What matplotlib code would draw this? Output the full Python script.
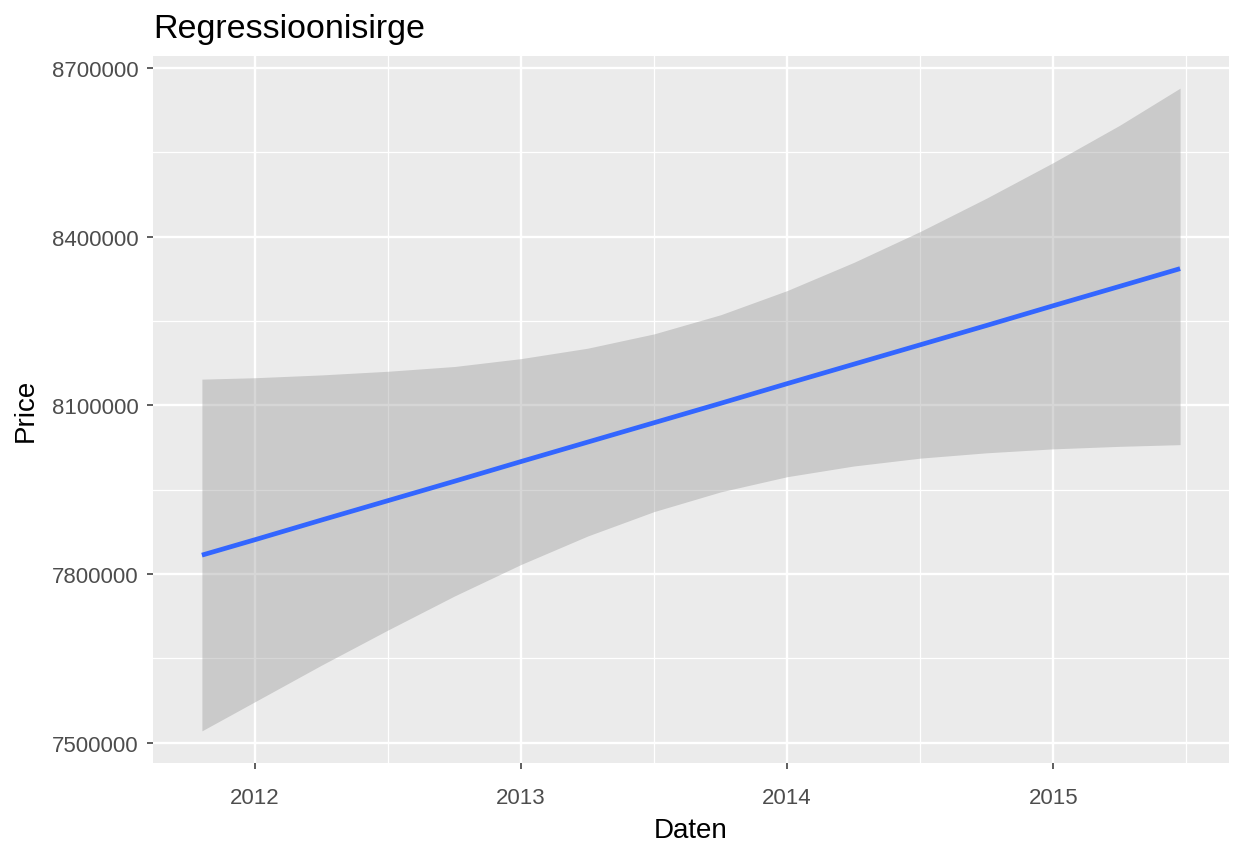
import matplotlib
matplotlib.use("Agg")
import matplotlib.pyplot as plt
import numpy as np

# ---- data (decimal years) ----
years = [2011.80, 2012.00, 2012.25, 2012.50, 2012.75, 2013.00, 2013.25, 2013.50,
         2013.75, 2014.00, 2014.25, 2014.50, 2014.75, 2015.00, 2015.25, 2015.477]
fit = [7833500, 7861000, 7896000, 7930500, 7965000, 8000000, 8034500, 8069000,
       8103500, 8138500, 8173000, 8207500, 8242000, 8277000, 8311500, 8343000]
upper = [8146500, 8149000, 8154000, 8160500, 8169000, 8183000, 8201500, 8227000,
         8261000, 8304000, 8354000, 8409000, 8468500, 8531500, 8598000, 8664000]
lower = [7521000, 7573000, 7638000, 7700500, 7761000, 7817000, 7867500, 7911000,
         7946000, 7973000, 7992000, 8006000, 8015500, 8022500, 8027000, 8030000]

x_ticks = [2012, 2013, 2014, 2015]
x_labels = ["2012", "2013", "2014", "2015"]
y_ticks = [7500000, 7800000, 8100000, 8400000, 8700000]
y_labels = ["7500000", "7800000", "8100000", "8400000", "8700000"]

title = "Regressioonisirge"
xlabel = "Daten"
ylabel = "Price"

plt.rcParams['font.family'] = ['Liberation Sans', 'DejaVu Sans']

fig = plt.figure(figsize=(12.33, 8.45), dpi=100)
ax = fig.add_axes([153/1233, 1 - 764/845, (1229 - 153)/1233, (764 - 57)/845])

ax.set_facecolor("#EBEBEB")
for s in ax.spines.values():
    s.set_visible(False)

# ggplot-like 5% expansion
xmin, xmax = min(years), max(years)
ymin, ymax = min(lower), max(upper)
dx = (xmax - xmin) * 0.05
dy = (ymax - ymin) * 0.05
ax.set_xlim(xmin - dx, xmax + dx)
ax.set_ylim(ymin - dy, ymax + dy)

# gridlines
x_minor = [(a + b) / 2 for a, b in zip(x_ticks[:-1], x_ticks[1:])] + [x_ticks[-1] + 0.5]
y_minor = [(a + b) / 2 for a, b in zip(y_ticks[:-1], y_ticks[1:])]
for xm in x_minor:
    ax.axvline(xm, color="white", lw=0.9, zorder=0.5)
for ym in y_minor:
    ax.axhline(ym, color="white", lw=0.9, zorder=0.5)
for xt in x_ticks:
    ax.axvline(xt, color="white", lw=1.7, zorder=0.6)
for yt in y_ticks:
    ax.axhline(yt, color="white", lw=1.7, zorder=0.6)

ax.fill_between(years, lower, upper, color="#999999", alpha=0.4, lw=0, zorder=1)
ax.plot(years, fit, color="#3366FF", lw=3.4, zorder=2, solid_capstyle="butt")

ax.set_xticks(x_ticks)
ax.set_xticklabels(x_labels)
ax.set_yticks(y_ticks)
ax.set_yticklabels(y_labels)
ax.tick_params(axis="both", which="major", length=4.5, width=1.1, color="#333333",
               labelcolor="#4D4D4D", labelsize=16, pad=6)
ax.tick_params(axis="x", pad=13)

ax.set_xlabel(xlabel, fontsize=20, color="black", labelpad=6)
ax.set_ylabel(ylabel, fontsize=20, color="black", labelpad=9)
ax.set_title(title, fontsize=24.5, loc="left", color="black", pad=14)

fig.savefig("out.png", dpi=100, facecolor="white")
